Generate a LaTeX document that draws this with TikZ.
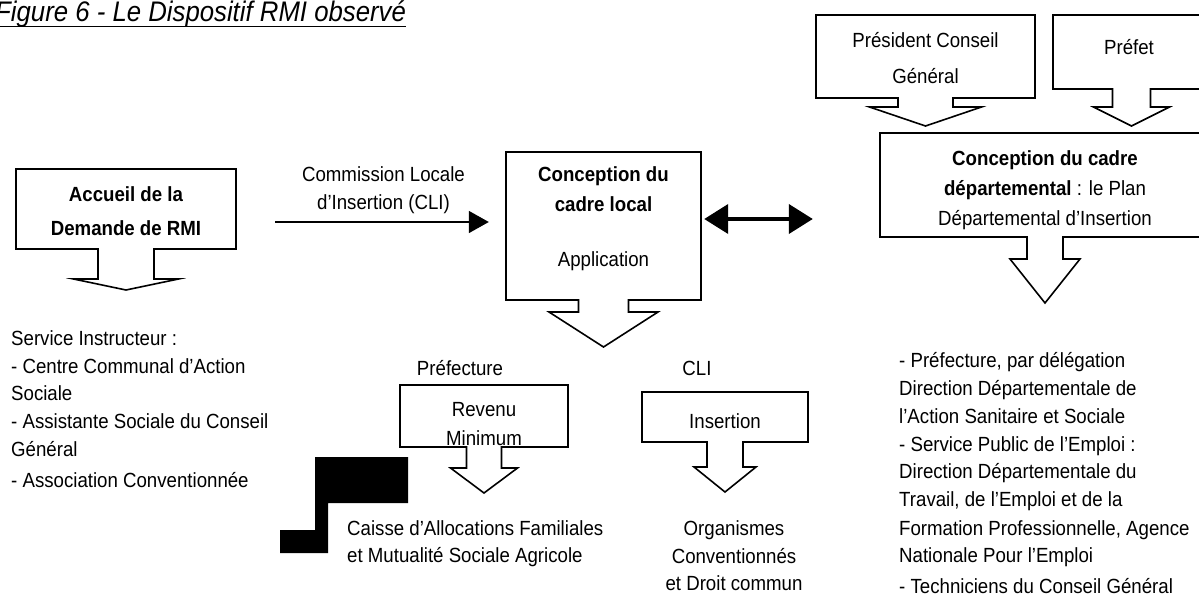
\documentclass[tikz,border=0pt]{standalone}
\usepackage{fontspec}
\setmainfont{Liberation Sans}[FakeStretch=0.91]
\usetikzlibrary{arrows.meta,calc}
\tikzset{
  txt/.style={inner sep=0pt, anchor=base, font=\fontsize{20.5}{24}\selectfont},
  txtl/.style={txt, anchor=base west},
  btxt/.style={txt, font=\fontsize{20.5}{24}\selectfont\bfseries},
  cbox/.style={draw=black, line width=1.6pt, line join=miter},
  hold/.style={draw=none, inner sep=0pt},
  cliarrow/.style={line width=1.6pt, -{Triangle[length=20pt,width=22pt]}},
  dblarrow/.style={line width=4pt, {Triangle[length=24pt,width=29pt]}-{Triangle[length=24pt,width=29pt]}},
}
% x1 y1 x2 y2 stemhalf stembottom flangehalf tipy
\newcommand\callout[8]{%
  \draw[cbox] ({(#1+#3)/2-#5},#4) -- (#1,#4) -- (#1,#2) -- (#3,#2) -- (#3,#4)
    -- ({(#1+#3)/2+#5},#4) -- ({(#1+#3)/2+#5},#6) -- ({(#1+#3)/2+#7},#6)
    -- ({(#1+#3)/2},#8) -- ({(#1+#3)/2-#7},#6) -- ({(#1+#3)/2-#5},#6) -- cycle;
}
\begin{document}
\begin{tikzpicture}[x=1pt,y=-1pt]
\useasboundingbox (0,0) rectangle (1199,594);

% title
\node[inner sep=0pt, anchor=base west, font=\fontsize{28.3}{32}\selectfont\itshape] (title) at (-5,22) {Figure 6 - Le Dispositif RMI observé};
\draw[line width=1.8pt] ([yshift=-4.5pt]title.base west) -- ([yshift=-4.5pt]title.base east);

% box holders
\node[hold, minimum width=220pt, minimum height=80pt] (acc) at (126,209) {};
\node[hold, minimum width=195pt, minimum height=148pt] (mid) at (603.5,226) {};
\node[hold, minimum width=219pt, minimum height=83pt] (pcg) at (925.5,56.5) {};
\node[hold, minimum width=157pt, minimum height=74pt] (pref) at (1131.5,52) {};
\node[hold, minimum width=330pt, minimum height=104pt] (dept) at (1045,185) {};
\node[hold, minimum width=168pt, minimum height=62pt] (rev) at (484,416) {};
\node[hold, minimum width=166pt, minimum height=50pt] (ins) at (725,417) {};

% callout outlines
\callout{16}{169}{236}{249}{28}{279}{52.5}{290}
\callout{506}{152}{701}{300}{25}{312}{54.5}{347}
\callout{816}{15}{1035}{98}{27.5}{107}{56}{126}
\callout{1053}{15}{1210}{89}{19}{107}{38}{126}
\callout{880}{133}{1210}{237}{18}{259}{35}{303}
\callout{400}{385}{568}{447}{17.5}{468}{33.5}{493}
\callout{642}{392}{808}{442}{18}{467}{31}{492}

% connectors
\coordinate (cliS) at (275,222);
\draw[cliarrow, shorten >=17pt] (cliS) -- (cliS -| mid.west);
\coordinate (dblY) at (0,219);
\draw[dblarrow, shorten <=3pt, shorten >=67pt] (mid.east |- dblY) -- (dept.west |- dblY);

% black shape
\fill[black] (315,457) -- (408,457) -- (408,503) -- (328,503) -- (328,553) -- (280,553) -- (280,530) -- (315,530) -- cycle;

% box texts
\node[btxt] (acc1) at (126,201) {Accueil de la};
\node[btxt] (acc2) at (126,235) {Demande de RMI};
\node[txt] (cli1) at (383.5,181) {Commission Locale};
\node[txt] (cli2) at (383.5,209) {d’Insertion (CLI)};
\node[btxt] (mid1) at (603.5,181) {Conception du};
\node[btxt] (mid2) at (603.5,211) {cadre local};
\node[txt] (mid3) at (603.5,266) {Application};
\node[txt] (pcg1) at (925.5,48) {Président Conseil};
\node[txt] (pcg2) at (925.5,83) {Général};
\node[txt] (pref1) at (1129,55) {Préfet};
\node[btxt] (dept1) at (1045,165) {Conception du cadre};
\node[txt] (dept2) at (1045,195) {\textbf{départemental} : le Plan};
\node[txt] (dept3) at (1045,225) {Départemental d’Insertion};
\node[txt] (lprefa) at (460,375) {Préfecture};
\node[txt] (lcli) at (697,375) {CLI};
\node[txt] (rev1) at (484,416) {Revenu};
\node[txt] (rev2) at (484,445) {Minimum};
\node[txt] (ins1) at (725,428) {Insertion};

% left list
\foreach \yy/\tt [count=\i] in {345/Service Instructeur :, 373/- Centre Communal d’Action, 400/Sociale, 428/- Assistante Sociale du Conseil, 456/Général, 487/- Association Conventionnée}
  \node[txtl] (left\i) at (11,\yy) {\tt};

% caisse
\node[txtl] (caf1) at (347,535) {Caisse d’Allocations Familiales};
\node[txtl] (caf2) at (347,562) {et Mutualité Sociale Agricole};

% organismes
\node[txt] (org1) at (734,535) {Organismes};
\node[txt] (org2) at (734,563) {Conventionnés};
\node[txt] (org3) at (734,590) {et Droit commun};

% right list
\foreach \yy/\tt [count=\i] in {367/{- Préfecture, par délégation}, 395/Direction Départementale de, 423/l’Action Sanitaire et Sociale, 451/- Service Public de l’Emploi :, 478/Direction Départementale du, 506/{Travail, de l’Emploi et de la}, 535/{Formation Professionnelle, Agence}, 562/Nationale Pour l’Emploi, 593/- Techniciens du Conseil Général}
  \node[txtl] (right\i) at (899,\yy) {\tt};
\end{tikzpicture}
\end{document}
